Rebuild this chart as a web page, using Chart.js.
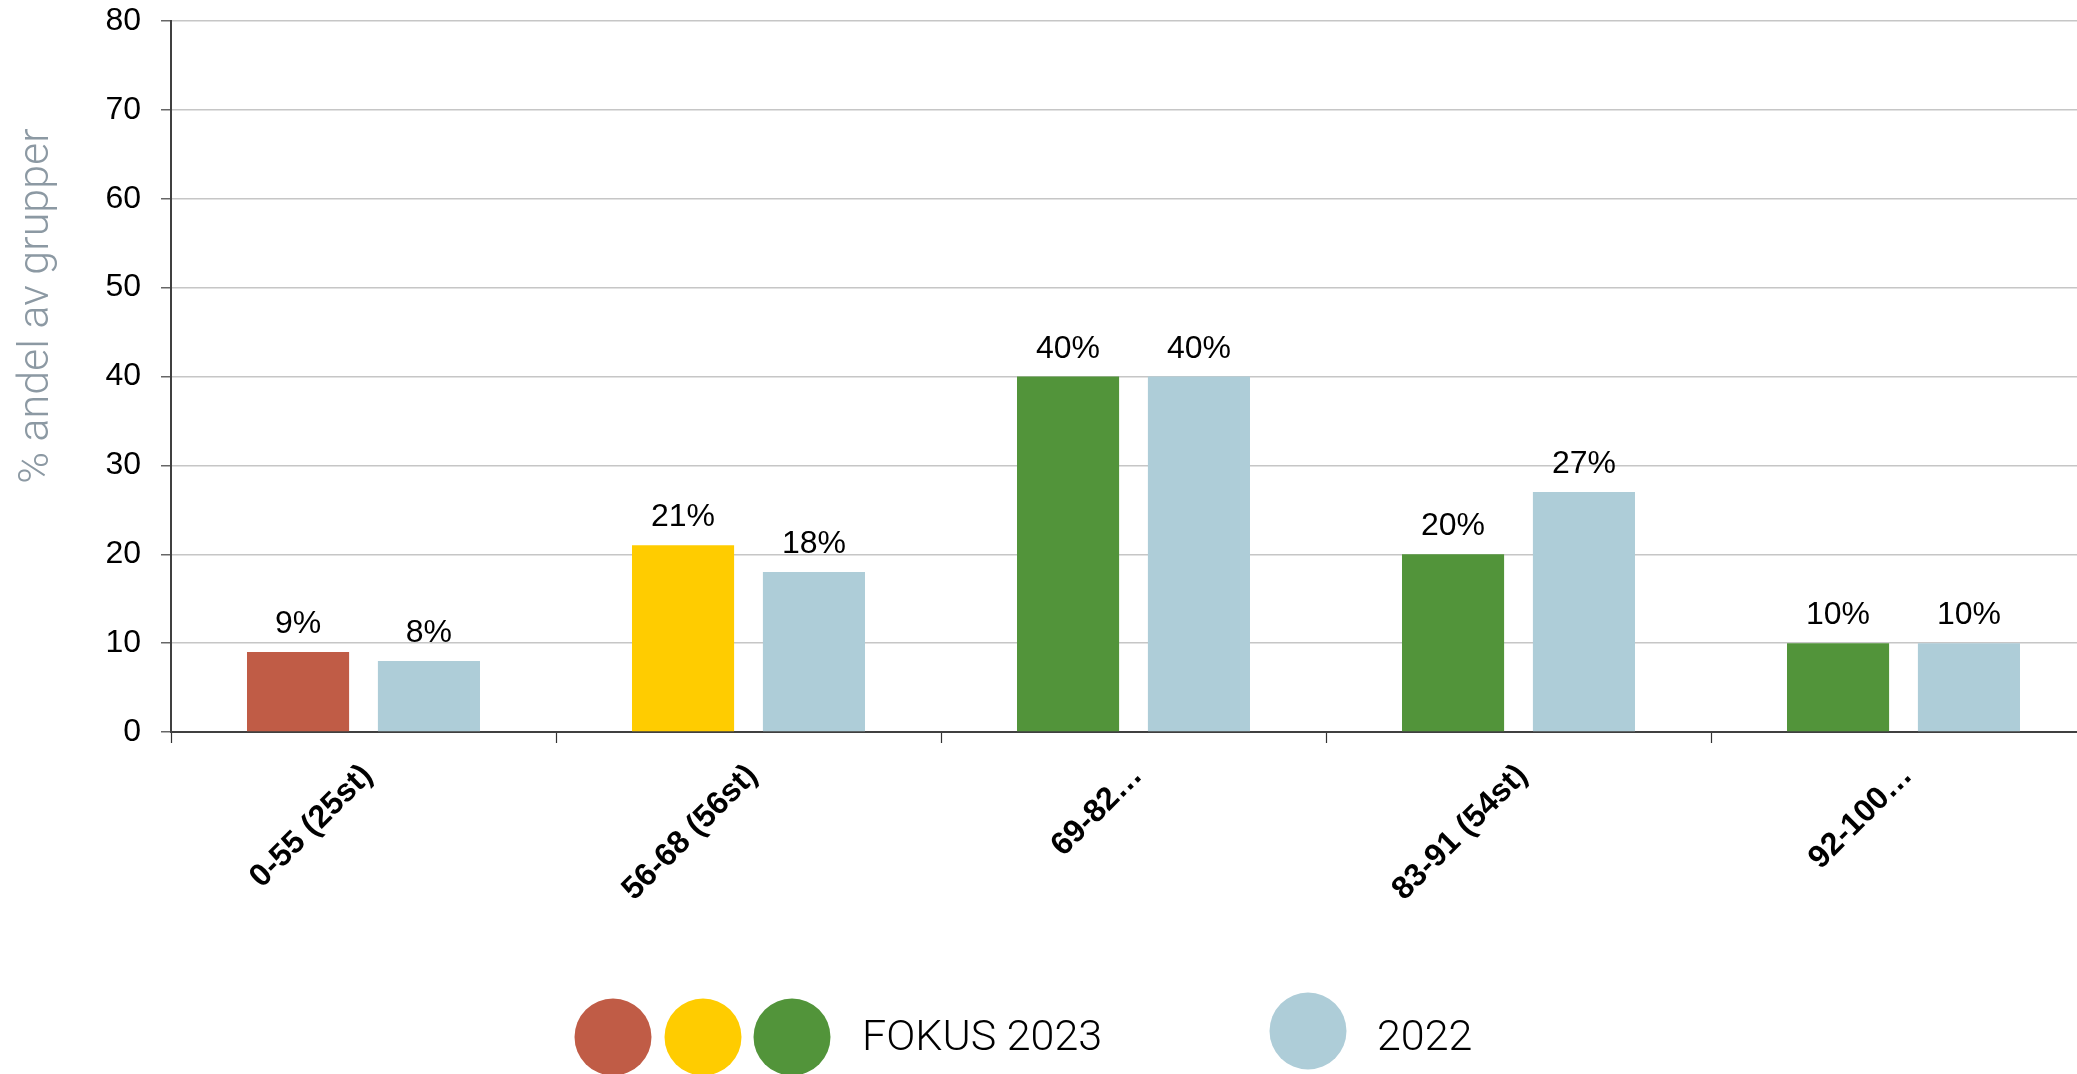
<!DOCTYPE html>
<html lang="sv">
<head>
    <meta charset="UTF-8">
    <title>Andel av grupper</title>
    <style>
        html, body {
            margin: 0;
            padding: 0;
            background: #ffffff;
            overflow: hidden;
        }
        #chart {
            display: block;
        }
    </style>
    <script src="https://cdn.jsdelivr.net/npm/chart.js"></script>
</head>
<body>
    <canvas id="chart" width="2100" height="1074"></canvas>

    <script>
        // Data
        const categories = ['0-55 (25st)', '56-68 (56st)', '69-82\u2026', '83-91 (54st)', '92-100\u2026'];
        const fokus2023 = [9, 21, 40, 20, 10];
        const year2022 = [8, 18, 40, 27, 10];
        const fokusColors = ['#c05c46', '#ffcc00', '#52943a', '#52943a', '#52943a'];
        const color2022 = '#aecdd8';
        const yTicks = [0, 10, 20, 30, 40, 50, 60, 70, 80];
        const yTitle = '% andel av grupper';
        const legendFokus = 'FOKUS 2023';
        const legend2022 = '2022';

        const tickFont = "'Liberation Sans', Arial, Helvetica, sans-serif";
        const lightFont = "Roboto, 'Liberation Sans', Arial, sans-serif";

        // Procent över staplarna
        const valueLabels = {
            id: 'valueLabels',
            afterDatasetsDraw(chart) {
                const ctx = chart.ctx;
                ctx.save();
                ctx.font = '32px ' + tickFont;
                ctx.fillStyle = '#000';
                ctx.textAlign = 'center';
                ctx.textBaseline = 'alphabetic';
                chart.data.datasets.forEach((ds, i) => {
                    chart.getDatasetMeta(i).data.forEach((bar, j) => {
                        ctx.fillText(ds.data[j] + '%', bar.x, bar.y - 19);
                    });
                });
                ctx.restore();
            }
        };

        // Y-titel och egen legend
        const extras = {
            id: 'extras',
            afterDraw(chart) {
                const ctx = chart.ctx;
                ctx.save();
                ctx.fillStyle = '#8c99a3';
                ctx.font = '300 43px ' + lightFont;
                ctx.textAlign = 'center';
                ctx.textBaseline = 'middle';
                ctx.translate(37, 306);
                ctx.rotate(-Math.PI / 2);
                ctx.fillText(yTitle, 0, 0);
                ctx.restore();

                ctx.save();
                const dots = [fokusColors[0], fokusColors[1], fokusColors[2]];
                const dotX = [613, 703, 792];
                dots.forEach((c, i) => {
                    ctx.beginPath();
                    ctx.arc(dotX[i], 1037, 38.5, 0, Math.PI * 2);
                    ctx.fillStyle = c;
                    ctx.fill();
                });
                ctx.beginPath();
                ctx.arc(1308, 1031, 38.5, 0, Math.PI * 2);
                ctx.fillStyle = color2022;
                ctx.fill();

                ctx.fillStyle = '#000';
                ctx.font = '300 43px ' + lightFont;
                ctx.textAlign = 'left';
                ctx.textBaseline = 'alphabetic';
                ctx.fillText(legendFokus, 862, 1050);
                ctx.fillText(legend2022, 1377, 1050);
                ctx.restore();
            }
        };

        new Chart(document.getElementById('chart'), {
            type: 'bar',
            data: {
                labels: categories,
                datasets: [
                    {
                        label: legendFokus,
                        data: fokus2023,
                        backgroundColor: fokusColors,
                        categoryPercentage: 0.68,
                        barPercentage: 0.78
                    },
                    {
                        label: legend2022,
                        data: year2022,
                        backgroundColor: color2022,
                        categoryPercentage: 0.68,
                        barPercentage: 0.78
                    }
                ]
            },
            options: {
                responsive: false,
                animation: false,
                layout: {
                    padding: { top: 21, right: 4, left: 0, bottom: 0 }
                },
                plugins: {
                    legend: { display: false },
                    tooltip: { enabled: false }
                },
                scales: {
                    x: {
                        afterFit(scale) {
                            scale.height = 342;
                            scale.paddingLeft = 0;
                            scale.paddingRight = 0;
                        },
                        grid: {
                            drawOnChartArea: false,
                            drawTicks: true,
                            tickLength: 11,
                            tickColor: '#333',
                            tickWidth: 1.2
                        },
                        border: { color: '#404040', width: 2 },
                        ticks: {
                            autoSkip: false,
                            minRotation: 45,
                            maxRotation: 45,
                            padding: 14,
                            labelOffset: 4,
                            color: '#000',
                            font: { family: tickFont, size: 32, weight: 'bold' }
                        }
                    },
                    y: {
                        min: 0,
                        max: 80,
                        afterFit(scale) {
                            scale.width = 171;
                            scale.paddingTop = 0;
                            scale.paddingBottom = 0;
                        },
                        afterBuildTicks(scale) {
                            scale.ticks = yTicks.map(v => ({ value: v }));
                        },
                        grid: {
                            color: '#c6c6c6',
                            lineWidth: 1.5,
                            tickLength: 10,
                            tickColor: '#666',
                            tickWidth: 1.5
                        },
                        border: { color: '#404040', width: 2 },
                        ticks: {
                            padding: 20,
                            color: '#000',
                            font: { family: tickFont, size: 32 }
                        }
                    }
                }
            },
            plugins: [valueLabels, extras]
        });
    </script>
</body>
</html>
